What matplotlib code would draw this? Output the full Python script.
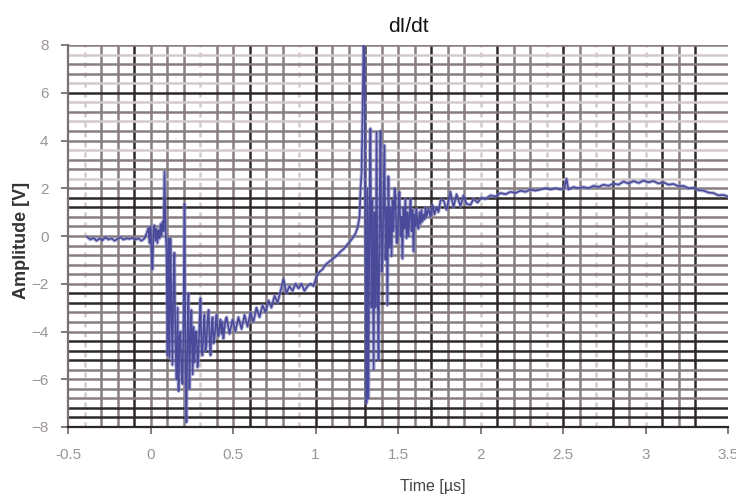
import numpy as np
import matplotlib
matplotlib.use('Agg')
import matplotlib.pyplot as plt

plt.rcParams['font.family'] = ['Liberation Sans', 'DejaVu Sans']

# waveform (time in us, amplitude in V), in pieces
# quiet part before the first breakdown
t_pre = [-0.382, -0.364, -0.345, -0.327, -0.309, -0.291, -0.273, -0.255, -0.236, -0.218,
         -0.2, -0.182, -0.164, -0.145, -0.127, -0.109, -0.091, -0.073, -0.055, -0.036,
         -0.024, -0.012, -0.006, 0.0, 0.006, 0.012, 0.018, 0.024, 0.03, 0.036,
         0.042, 0.048, 0.055, 0.061, 0.067, 0.073, 0.079, 0.085, 0.091]
v_pre = [-0.05, -0.15, -0.08, -0.2, -0.1, -0.18, -0.05, -0.15, -0.1, -0.2,
         -0.12, -0.05, -0.15, -0.1, -0.12, -0.08, -0.15, -0.1, -0.2, -0.1,
         0.1, 0.35, -0.3, 0.4, -0.6, -1.4, 0.2, 0.45, -0.2, 0.3,
         -0.3, 0.25, -0.1, 0.5, 0.0, 0.6, 0.2, 2.7, 0.3]

# first transient
t_tr1 = [0.097, 0.103, 0.109, 0.115, 0.121, 0.127, 0.133, 0.139, 0.145, 0.151,
         0.158, 0.164, 0.17, 0.176, 0.182, 0.188, 0.194, 0.2, 0.206, 0.212,
         0.218, 0.224, 0.23, 0.236, 0.242, 0.248, 0.255, 0.261, 0.267, 0.273,
         0.279, 0.285, 0.291, 0.297, 0.303, 0.309, 0.315, 0.321, 0.327, 0.333,
         0.339, 0.345, 0.352, 0.358, 0.364, 0.37, 0.376, 0.382, 0.388, 0.394,
         0.4, 0.406, 0.412, 0.418, 0.424, 0.43, 0.436, 0.442, 0.448, 0.455]
v_tr1 = [-0.6, -5.0, -0.1, -5.1, -0.1, -3.0, -5.4, -2.0, -0.7, -4.5,
         -6.0, -3.0, -6.5, -4.2, -4.0, -5.8, -6.2, -3.5, 1.35, -5.5,
         -7.8, -4.0, -2.4, -6.4, -4.2, -3.1, -5.8, -3.8, -5.3, -4.0,
         -4.0, -5.5, -5.0, -3.6, -2.6, -4.8, -5.0, -3.9, -3.3, -4.8,
         -4.6, -3.6, -3.1, -4.4, -5.0, -3.8, -3.4, -4.5, -4.3, -3.7,
         -3.3, -4.0, -4.2, -3.8, -3.5, -4.1, -3.6, -4.3, -3.9, -3.5]

# slow ramp up to the second spike
t_ramp = [0.461, 0.479, 0.497, 0.515, 0.533, 0.552, 0.57, 0.588, 0.606, 0.624,
          0.642, 0.661, 0.679, 0.697, 0.715, 0.733, 0.752, 0.77, 0.788, 0.806,
          0.824, 0.842, 0.861, 0.879, 0.897, 0.915, 0.933, 0.952, 0.97, 0.988,
          1.006, 1.024, 1.042, 1.061, 1.079, 1.097, 1.115, 1.133, 1.152, 1.17,
          1.188, 1.206, 1.224, 1.242, 1.255, 1.267, 1.273, 1.279, 1.285, 1.291,
          1.297]
v_ramp = [-3.4, -4.1, -3.5, -4.0, -3.4, -3.9, -3.3, -3.8, -3.2, -3.6,
          -3.0, -3.4, -2.9, -3.2, -2.7, -3.0, -2.5, -2.8, -2.3, -1.8,
          -2.4, -2.1, -2.3, -2.0, -2.2, -2.0, -2.3, -2.1, -2.0, -2.1,
          -1.7, -1.5, -1.4, -1.2, -1.1, -1.0, -0.9, -0.8, -0.65, -0.55,
          -0.4, -0.25, -0.1, 0.1, 0.35, 0.8, 2.0, 2.6, 5.0, 8.0,
          7.5]

# second transient
t_tr2 = [1.303, 1.309, 1.315, 1.321, 1.327, 1.333, 1.339, 1.345, 1.352, 1.358,
         1.364, 1.370, 1.376, 1.382, 1.388, 1.394, 1.400, 1.406, 1.412, 1.418,
         1.424, 1.430, 1.436, 1.442, 1.448, 1.455, 1.461, 1.467, 1.473, 1.479,
         1.485, 1.491, 1.497, 1.503, 1.509, 1.515, 1.521, 1.527, 1.533, 1.539,
         1.545, 1.552, 1.558, 1.564, 1.570, 1.576, 1.582, 1.588, 1.594, 1.600,
         1.606, 1.612, 1.618, 1.624, 1.630, 1.636, 1.642, 1.648, 1.655, 1.661,
         1.667, 1.673, 1.685, 1.697, 1.709, 1.721, 1.733, 1.745, 1.758]
v_tr2 = [-1.0, -7.0, 2.0, -6.8, 1.0, 4.5, -3.0, 1.5, -5.6, 1.0,
         -3.0, 4.35, -2.0, -5.2, 1.0, 4.4, -1.5, -1.0, 1.5, 3.8,
         -1.0, 1.2, -2.9, 2.5, -0.5, 1.2, -0.85, 1.5, 0.2, 2.0,
         1.7, -0.3, -0.25, 1.2, 1.85, 0.0, 0.8, -0.95, 1.2, 0.3,
         1.55, -0.1, 1.0, 0.0, 0.9, 1.55, 0.2, 1.1, -0.65, 0.9,
         0.4, 1.15, 0.5, 0.3, 1.0, 0.5, 1.1, 0.6, 0.9, 0.7,
         1.2, 0.8, 1.15, 0.8, 1.3, 0.9, 1.2, 1.0, 1.5]

# slow tail
t_tail = [1.776, 1.794, 1.818, 1.836, 1.855, 1.879, 1.897, 1.915, 1.939, 1.958,
          1.982, 2.006, 2.03, 2.061, 2.091, 2.121, 2.152, 2.182, 2.212, 2.242,
          2.273, 2.303, 2.333, 2.364, 2.394, 2.424, 2.455, 2.485, 2.509, 2.521,
          2.533, 2.564, 2.594, 2.624, 2.655, 2.685, 2.715, 2.745, 2.776, 2.806,
          2.836, 2.867, 2.897, 2.927, 2.958, 2.988, 3.018, 3.048, 3.079, 3.109,
          3.139, 3.17, 3.2, 3.23, 3.261, 3.291, 3.321, 3.352, 3.382, 3.412,
          3.442, 3.473, 3.5]
v_tail = [1.5, 1.1, 1.85, 1.2, 1.75, 1.25, 1.7, 1.35, 1.3, 1.55,
          1.4, 1.6, 1.55, 1.7, 1.65, 1.8, 1.75, 1.85, 1.8, 1.9,
          1.85, 1.95, 1.9, 1.95, 2.0, 1.95, 2.0, 1.95, 2.0, 2.4,
          1.95, 2.05, 2.0, 2.05, 2.0, 2.1, 2.05, 2.15, 2.1, 2.2,
          2.15, 2.28, 2.2, 2.3, 2.22, 2.32, 2.25, 2.3, 2.2, 2.25,
          2.15, 2.18, 2.08, 2.1, 2.0, 2.02, 1.92, 1.9, 1.82, 1.8,
          1.7, 1.72, 1.65]

x_ticks = [-0.5, 0, 0.5, 1, 1.5, 2, 2.5, 3, 3.5]
x_labels = ['-0.5', '0', '0.5', '1', '1.5', '2', '2.5', '3', '3.5']
y_ticks = [-8, -6, -4, -2, 0, 2, 4, 6, 8]

# grid shading pattern of the scanned chart (d=dark, m=medium, l=light)
v_shade = 'lmmdmmmlmmdmmldmmdmmmdmmldmmldmldmldmd'
h_shade = 'dddmmmmdddmmmddmmmmmmmmddmlmmlmmlmldlmmlm'
shade_col = {'d': '#2e2828', 'm': '#887e7e', 'l': '#d2caca'}

t_all = t_pre + t_tr1 + t_ramp + t_tr2 + t_tail
v_all = v_pre + v_tr1 + v_ramp + v_tr2 + v_tail

fig = plt.figure(figsize=(7.36, 4.97), dpi=100)
ax = fig.add_axes([68 / 736, 70 / 497, 660 / 736, 382 / 497])

v_pos = np.round(np.arange(-0.4, 3.45, 0.1), 2)
for xv, s in zip(v_pos, v_shade):
    ax.axvline(xv, color=shade_col[s], lw=1.8, zorder=1,
               ls=(0, (2, 2)) if s == 'l' else '-')
h_pos = np.round(np.arange(-8.0, 8.01, 0.4), 2)
for yv, s in zip(h_pos, h_shade):
    ax.axhline(yv, color=shade_col[s], lw=1.8, zorder=1)

ax.plot(t_all, v_all, color='#8c8cc8', lw=2.6, alpha=0.6, zorder=2)
ax.plot(t_all, v_all, color='#4a4a9a', lw=1.2, zorder=3)

ax.set_xlim(-0.5, 3.5)
ax.set_ylim(-8, 8)
ax.set_xticks(x_ticks)
ax.set_xticklabels(x_labels)
ax.set_yticks(y_ticks)
ax.tick_params(axis='both', colors='#7a7272', labelcolor='#9a9494',
               labelsize=11, length=5, width=1.3)
ax.tick_params(axis='x', pad=10)
ax.tick_params(axis='y', pad=9)

for side in ['top', 'right']:
    ax.spines[side].set_visible(False)
ax.spines['left'].set_color('#7a7272')
ax.spines['left'].set_linewidth(1.6)
ax.spines['bottom'].set_color('#2e2828')
ax.spines['bottom'].set_linewidth(1.6)

fig.text(22 / 736, 1 - 240 / 497, 'Amplitude [V]', rotation=90, ha='center', va='center',
         fontsize=13, fontweight='bold', color='#333333')
fig.text(433 / 736, 1 - 487 / 497, 'Time [µs]', ha='center', va='center',
         fontsize=11.5, color='#444444')
fig.text(408 / 736, 1 - 26 / 497, 'dI/dt', ha='center', va='center',
         fontsize=15, color='#111111')

fig.savefig('out.png', dpi=100)
